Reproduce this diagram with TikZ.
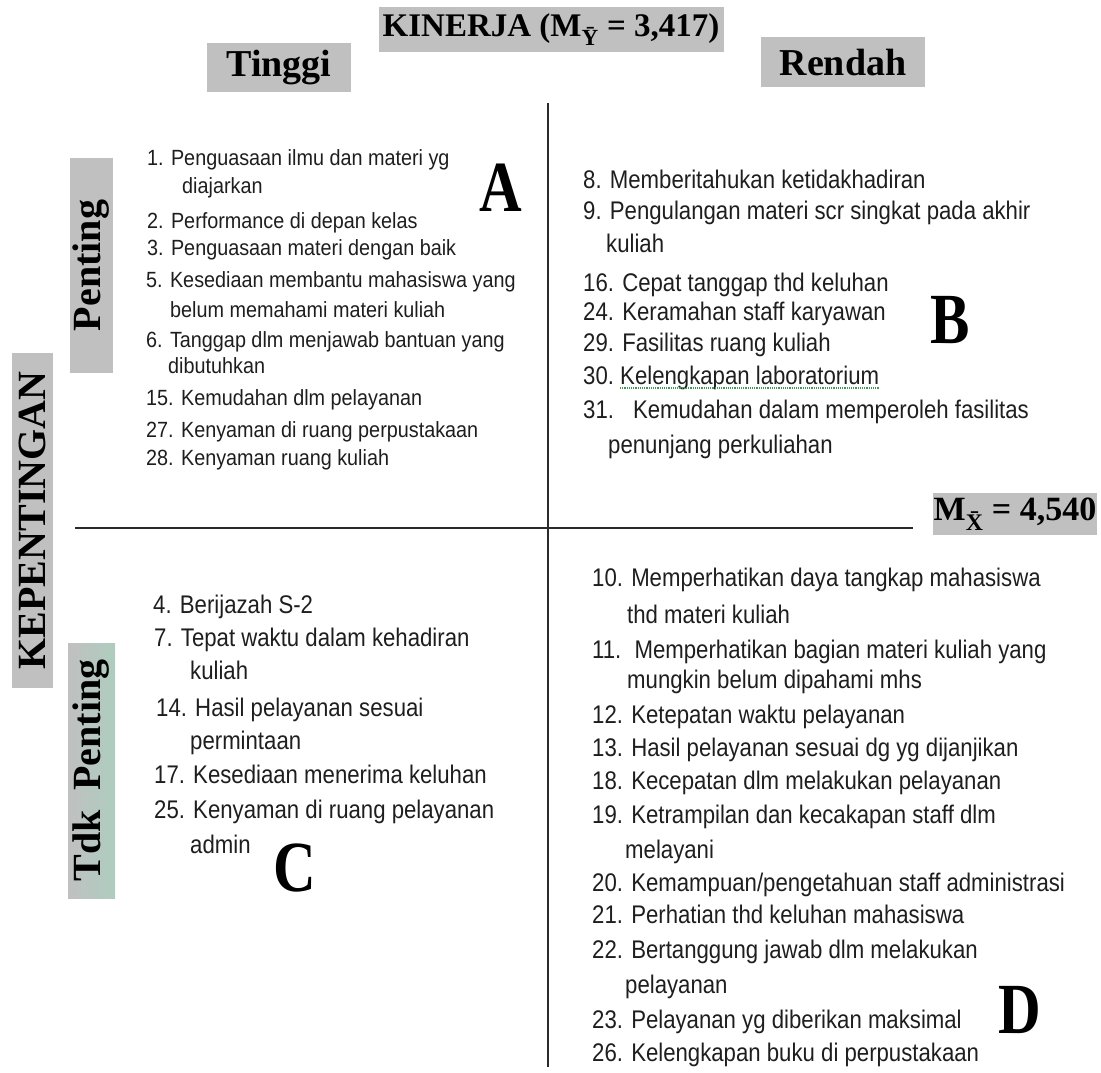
\documentclass[tikz,border=0pt]{standalone}
\usepackage{fontspec}
\setmainfont{Liberation Serif}
\newfontfamily\itemfont[FakeStretch=0.87]{Liberation Sans}
\newfontfamily\itemfontA[FakeStretch=0.9]{Liberation Sans}
\newfontfamily\quadfont[FakeStretch=0.82]{Liberation Serif}
\definecolor{boxgray}{HTML}{C0C0C0}
\definecolor{boxgreen}{HTML}{AECDBF}
\definecolor{inkgray}{HTML}{1E1E1E}
\definecolor{axisgray}{HTML}{2A2A2A}
\definecolor{checkgreen}{HTML}{3F9A55}

\begin{document}
\begin{tikzpicture}[x=1pt,y=-1pt,
  headbox/.style={fill=boxgray, inner sep=0pt, text=black,
    font=\bfseries\fontsize{38}{40}\selectfont},
  sidebox/.style={fill=boxgray, inner sep=0pt},
  sidetext/.style={rotate=90, inner sep=0pt, text=black,
    font=\bfseries\fontsize{40}{42}\selectfont},
  itemsmall/.style={anchor=west, inner sep=0pt, text=inkgray,
    text height=16pt, text depth=4.6pt,
    font=\itemfontA\fontsize{22}{26}\selectfont},
  itembig/.style={anchor=west, inner sep=0pt, text=inkgray,
    text height=18.3pt, text depth=5.4pt,
    font=\itemfont\fontsize{25.5}{30}\selectfont},
  quadletter/.style={inner sep=0pt, text=black,
    font=\quadfont\bfseries\fontsize{72}{72}\selectfont},
  axis/.style={draw=axisgray, line width=1.8pt}
]
\useasboundingbox (0,0) rectangle (1101,1072);

% ---- axes ----
\coordinate (vtop) at (548,103);
\coordinate (vbot) at (548,1067);
\coordinate (hleft) at (75,528);
\coordinate (hright) at (913,528);
\draw[axis] (vtop) -- (vbot);
\draw[axis] (hleft) -- (hright);

% ---- headings ----
\node[headbox, minimum width=345pt, minimum height=45pt,
  font=\bfseries\fontsize{33}{35}\selectfont] (kinerja) at (551,29.5)
  {KINERJA (M\textsubscript{\=Y} = 3,417)};
\node[headbox, minimum width=144pt, minimum height=49pt] (tinggi) at (279,67.5) {Tinggi};
\node[headbox, minimum width=164pt, minimum height=50pt] (rendah) at (843,62) {Rendah};
\node[headbox, minimum width=164pt, minimum height=42pt,
  font=\bfseries\fontsize{34}{36}\selectfont] (mx) at (1015,514)
  {M\textsubscript{\=X} = 4,540};

% ---- side labels ----
\node[sidebox, minimum width=43pt, minimum height=215pt] (pentingbox) at (91.5,265.5) {};
\node[sidetext] (penting) at (pentingbox.center) {Penting};
\node[sidebox, minimum width=41pt, minimum height=335pt] (kepbox) at (32.5,520.5) {};
\node[sidetext] (kep) at (kepbox.center) {KEPENTINGAN};
\node[sidebox, left color=boxgray, right color=boxgreen,
  minimum width=47pt, minimum height=255pt] (tdkbox) at (91.5,770.5) {};
\node[sidetext] (tdk) at (tdkbox.center) {Tdk\ \ Penting};

% ---- quadrant A ----
\node[itemsmall] (a1)  at (147,160) {1. Penguasaan ilmu dan materi yg};
\node[itemsmall] (a1b) at (182,188) {diajarkan};
\node[itemsmall] (a2)  at (147,223) {2. Performance di depan kelas};
\node[itemsmall] (a3)  at (147,250) {3. Penguasaan materi dengan baik};
\node[itemsmall] (a5)  at (146,282) {5. Kesediaan membantu mahasiswa yang};
\node[itemsmall] (a5b) at (170,312) {belum memahami materi kuliah};
\node[itemsmall] (a6)  at (146,342) {6. Tanggap dlm menjawab bantuan yang};
\node[itemsmall] (a6b) at (168,368) {dibutuhkan};
\node[itemsmall] (a15) at (146,400) {15. Kemudahan dlm pelayanan};
\node[itemsmall] (a27) at (146,432) {27. Kenyaman di ruang perpustakaan};
\node[itemsmall] (a28) at (146,460) {28. Kenyaman ruang kuliah};
\node[quadletter] (qa) at (501,188) {A};

% ---- quadrant B ----
\node[itembig] (b8)  at (583,182) {8. Memberitahukan ketidakhadiran};
\node[itembig] (b9)  at (583,213) {9. Pengulangan materi scr singkat pada akhir};
\node[itembig] (b9b) at (606,246) {kuliah};
\node[itembig] (b16) at (583,285) {16. Cepat tanggap thd keluhan};
\node[itembig] (b24) at (583,314) {24. Keramahan staff karyawan};
\node[itembig] (b29) at (583,345) {29. Fasilitas ruang kuliah};
\node[itembig] (b30) at (583,378) {30.};
\node[itembig] (b30t) at (620,378) {Kelengkapan laboratorium};
\draw[checkgreen, densely dotted, line width=1.2pt]
  ([yshift=2pt]b30t.south west) -- ([yshift=2pt]b30t.south east);
\node[itembig] (b31) at (583,412) {31.\hspace{19pt}Kemudahan dalam memperoleh fasilitas};
\node[itembig] (b31b) at (608,447) {penunjang perkuliahan};
\node[quadletter] (qb) at (950.5,320) {B};

% ---- quadrant C ----
\node[itembig] (c4)   at (153,607) {4. Berijazah S-2};
\node[itembig] (c7)   at (154,640) {7. Tepat waktu dalam kehadiran};
\node[itembig] (c7b)  at (190,673) {kuliah};
\node[itembig] (c14)  at (156,710) {14. Hasil pelayanan sesuai};
\node[itembig] (c14b) at (190,743) {permintaan};
\node[itembig] (c17)  at (154,777) {17. Kesediaan menerima keluhan};
\node[itembig] (c25)  at (154,812) {25. Kenyaman di ruang pelayanan};
\node[itembig] (c25b) at (190,847) {admin};
\node[quadletter] (qc) at (295,868) {C};

% ---- quadrant D ----
\node[itembig] (d10)  at (592,580) {10. Memperhatikan daya tangkap mahasiswa};
\node[itembig] (d10b) at (627,617) {thd materi kuliah};
\node[itembig] (d11)  at (592,652) {11.\hspace{5pt} Memperhatikan bagian materi kuliah yang};
\node[itembig] (d11b) at (627,682) {mungkin belum dipahami mhs};
\node[itembig] (d12)  at (592,717) {12. Ketepatan waktu pelayanan};
\node[itembig] (d13)  at (592,750) {13. Hasil pelayanan sesuai dg yg dijanjikan};
\node[itembig] (d18)  at (592,783) {18. Kecepatan dlm melakukan pelayanan};
\node[itembig] (d19)  at (592,817) {19. Ketrampilan dan kecakapan staff dlm};
\node[itembig] (d19b) at (625,852) {melayani};
\node[itembig] (d20)  at (592,885) {20. Kemampuan/pengetahuan staff administrasi};
\node[itembig] (d21)  at (592,917) {21. Perhatian thd keluhan mahasiswa};
\node[itembig] (d22)  at (592,952) {22. Bertanggung jawab dlm melakukan};
\node[itembig] (d22b) at (625,987) {pelayanan};
\node[itembig] (d23)  at (592,1022) {23. Pelayanan yg diberikan maksimal};
\node[itembig] (d26)  at (592,1055) {26. Kelengkapan buku di perpustakaan};
\node[quadletter] (qd) at (1020,1010) {D};
\end{tikzpicture}
\end{document}
